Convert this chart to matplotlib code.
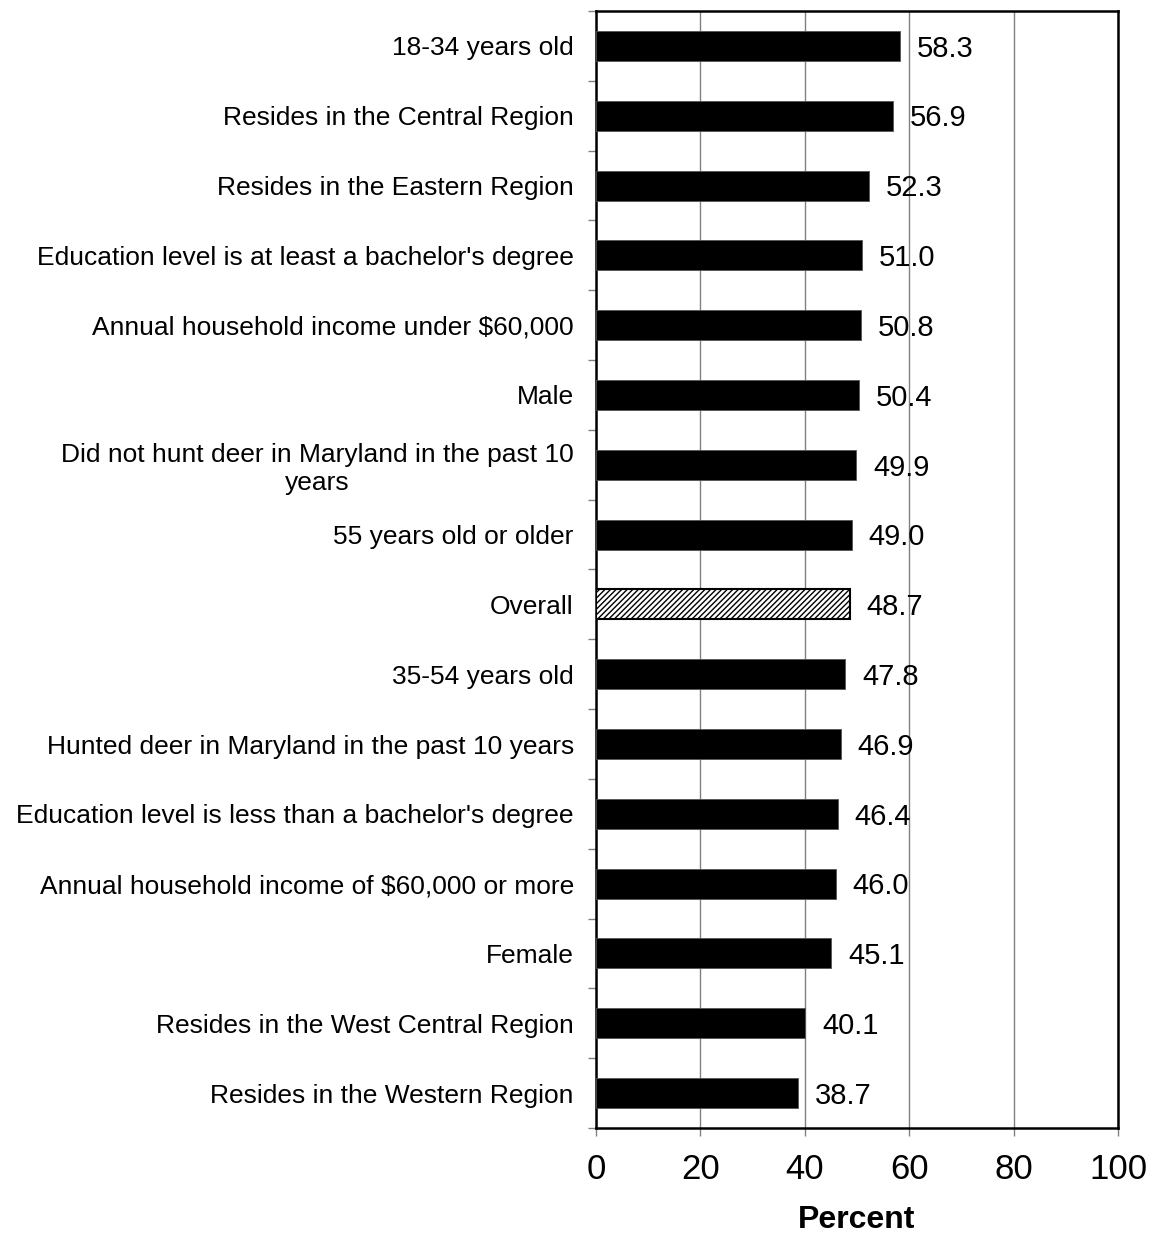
import matplotlib.pyplot as plt
import numpy as np

plt.rcParams['font.family'] = ['Liberation Sans', 'DejaVu Sans']
plt.rcParams['hatch.linewidth'] = 1.0

# categories, top to bottom
labels = ["18-34 years old",
          "Resides in the Central Region",
          "Resides in the Eastern Region",
          "Education level is at least a bachelor's degree",
          "Annual household income under $60,000",
          "Male",
          "Did not hunt deer in Maryland in the past 10\nyears",
          "55 years old or older",
          "Overall",
          "35-54 years old",
          "Hunted deer in Maryland in the past 10 years",
          "Education level is less than a bachelor's degree",
          "Annual household income of $60,000 or more",
          "Female",
          "Resides in the West Central Region",
          "Resides in the Western Region"]
values = [58.3, 56.9, 52.3, 51.0, 50.8, 50.4, 49.9, 49.0, 48.7,
          47.8, 46.9, 46.4, 46.0, 45.1, 40.1, 38.7]
xticks = [0, 20, 40, 60, 80, 100]

fig = plt.figure(figsize=(11.49, 12.34), dpi=100)
ax = fig.add_axes([0.5187, 0.0859, 0.4543, 0.9052])

y = np.arange(len(labels))
for i, (lab, v) in enumerate(zip(labels, values)):
    if lab == "Overall":
        ax.barh(i, v, height=0.43, color='white', edgecolor='black',
                hatch='//////', linewidth=1.5, zorder=3)
    else:
        ax.barh(i, v, height=0.43, color='black', edgecolor='#555555',
                linewidth=0.6, zorder=3)
    ax.annotate("%.1f" % v, (v, i), xytext=(12, -2), textcoords='offset points',
                ha='left', va='center', fontsize=21, zorder=4)

ax.set_xlim(0, 100)
ax.set_ylim(len(labels) - 0.5, -0.5)
ax.set_xticks(xticks)
ax.set_xticklabels([str(t) for t in xticks], fontsize=25)
ax.xaxis.grid(True, color='#808080', linewidth=1.0, zorder=0)

ax.set_yticks(y)
ax.set_yticklabels(labels, fontsize=19)
for t in ax.get_yticklabels():
    t.set_multialignment('center')
ax.tick_params(axis='y', which='major', length=0, pad=16)
ax.set_yticks(np.arange(-0.5, len(labels), 1), minor=True)
ax.tick_params(axis='y', which='minor', length=6, color='#808080', width=1)
ax.tick_params(axis='x', length=6, color='#808080', width=1, pad=12)

for s in ax.spines.values():
    s.set_linewidth(1.8)
    s.set_color('black')

ax.set_xlabel("Percent", fontsize=23, fontweight='bold', labelpad=14)

fig.savefig("out.png", dpi=100)
